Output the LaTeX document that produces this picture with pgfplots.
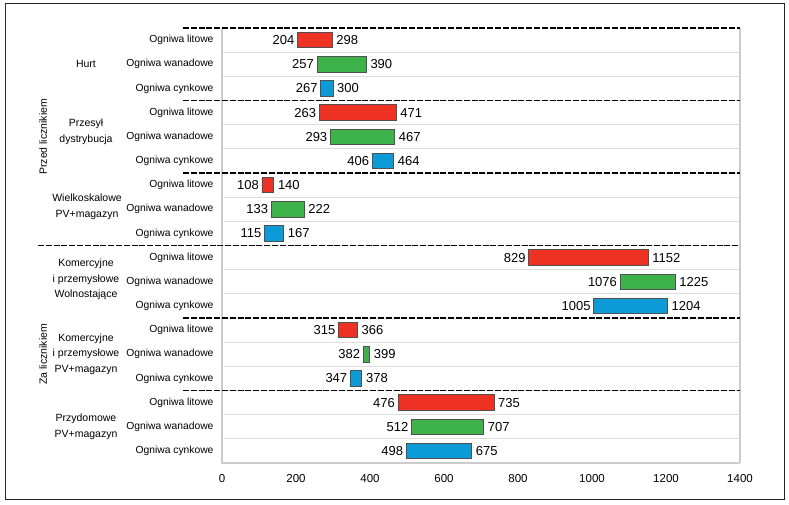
\documentclass[border=0pt]{standalone}
\usepackage{fontspec}
\setmainfont{Liberation Sans}
\usepackage{pgfplots}
\pgfplotsset{compat=1.18}
\usepackage{pgfplotstable}
\definecolor{cred}{RGB}{237,50,36}
\definecolor{cgreen}{RGB}{62,178,74}
\definecolor{cblue}{RGB}{13,155,216}
\definecolor{cborder}{RGB}{80,80,80}
\definecolor{cgrid}{RGB}{220,220,220}
\definecolor{caxis}{RGB}{204,204,204}
\tikzset{glab/.style={align=center, font=\fontsize{10.5}{15.5}\selectfont},
  sep/.style={black, line width=1.6pt, dash pattern=on 6pt off 1.8pt}}
% y: row, start/end: values; red/green/blue: bar length (end-start) for the row's type
\pgfplotstableread{
y  start red green blue end
0  204   94  0   0    298
1  257   0   133 0    390
2  267   0   0   33   300
3  263   208 0   0    471
4  293   0   174 0    467
5  406   0   0   58   464
6  108   32  0   0    140
7  133   0   89  0    222
8  115   0   0   52   167
9  829   323 0   0    1152
10 1076  0   149 0    1225
11 1005  0   0   199  1204
12 315   51  0   0    366
13 382   0   17  0    399
14 347   0   0   31   378
15 476   259 0   0    735
16 512   0   195 0    707
17 498   0   0   177  675
}\mytable
\begin{document}
\begin{tikzpicture}
\path (0pt,0pt) rectangle (789pt,505pt);
\draw[line width=0.8pt, black!85] (5pt,6pt) rectangle (784pt,502pt);
\begin{axis}[
  at={(222pt,42pt)}, anchor=south west,
  scale only axis, width=518pt, height=435pt,
  bar width=0.64,
  xmin=0, xmax=1400, ymin=-0.5, ymax=17.5, y dir=reverse,
  xtick={0,200,...,1400},
  ytick={0,...,17},
  yticklabels={Ogniwa litowe,Ogniwa wanadowe,Ogniwa cynkowe,
               Ogniwa litowe,Ogniwa wanadowe,Ogniwa cynkowe,
               Ogniwa litowe,Ogniwa wanadowe,Ogniwa cynkowe,
               Ogniwa litowe,Ogniwa wanadowe,Ogniwa cynkowe,
               Ogniwa litowe,Ogniwa wanadowe,Ogniwa cynkowe,
               Ogniwa litowe,Ogniwa wanadowe,Ogniwa cynkowe},
  minor ytick={0.5,1.5,...,16.5},
  yminorgrids, minor grid style={cgrid, line width=0.9pt},
  major tick length=0pt, minor tick length=0pt,
  axis line style={draw=none},
  clip=false,
  /pgf/number format/1000 sep={},
  /pgf/number format/assume math mode=true,
  xticklabel style={font=\fontsize{11.5}{13}\selectfont, yshift=-8pt},
  yticklabel style={font=\fontsize{10.3}{12}\selectfont, xshift=-5pt},
  ]
\draw[caxis, line width=2.2pt] (axis cs:0,-0.5) -- (axis cs:0,17.5) -- (axis cs:1400,17.5);
\draw[caxis, line width=1.5pt] (axis cs:1400,17.5) -- (axis cs:1400,-0.5);
\addplot[xbar stacked, bar shift=0pt, draw=none, fill=none] table[x=start, y=y] {\mytable};
\addplot[xbar stacked, bar shift=0pt, fill=cred, draw=cborder, line width=0.8pt] table[x=red, y=y] {\mytable};
\addplot[xbar stacked, bar shift=0pt, fill=cgreen, draw=cborder, line width=0.8pt] table[x=green, y=y] {\mytable};
\addplot[xbar stacked, bar shift=0pt, fill=cblue, draw=cborder, line width=0.8pt] table[x=blue, y=y] {\mytable};
% value labels
\addplot[sharp plot, draw=none, mark=none, nodes near coords, point meta=explicit,
  every node near coord/.style={anchor=east, font=\fontsize{13}{15}\selectfont, inner sep=3pt}]
  table[x=start, y=y, meta=start] {\mytable};
\addplot[sharp plot, draw=none, mark=none, nodes near coords, point meta=explicit,
  every node near coord/.style={anchor=west, font=\fontsize{13}{15}\selectfont, inner sep=4pt}]
  table[x=end, y=y, meta=end] {\mytable};
% separators
\draw[sep] ([xshift=-39pt]axis cs:0,-0.5) -- (axis cs:1400,-0.5);
\draw[sep] ([xshift=-39pt]axis cs:0,2.5) -- (axis cs:1400,2.5);
\draw[sep] ([xshift=-39pt]axis cs:0,5.5) -- (axis cs:1400,5.5);
\draw[sep] ([xshift=-184pt]axis cs:0,8.5) -- (axis cs:1400,8.5);
\draw[sep] ([xshift=-39pt]axis cs:0,11.5) -- (axis cs:1400,11.5);
\draw[sep] ([xshift=-39pt]axis cs:0,14.5) -- (axis cs:1400,14.5);
% group labels
\node[glab] at ([xshift=-136pt]axis cs:0,1) {Hurt};
\node[glab] at ([xshift=-136pt]axis cs:0,3.8) {Przesył\\dystrybucja};
\node[glab] at ([xshift=-135pt]axis cs:0,6.9) {Wielkoskalowe\\PV+magazyn};
\node[glab] at ([xshift=-136pt]axis cs:0,9.9) {Komercyjne\\i przemysłowe\\Wolnostające};
\node[glab] at ([xshift=-136pt]axis cs:0,13) {Komercyjne\\i przemysłowe\\PV+magazyn};
\node[glab] at ([xshift=-136pt]axis cs:0,16) {Przydomowe\\PV+magazyn};
\node[glab, rotate=90] at ([xshift=-179pt]axis cs:0,4) {Przed licznikiem};
\node[glab, rotate=90] at ([xshift=-179pt]axis cs:0,13) {Za licznikiem};
\end{axis}
\end{tikzpicture}
\end{document}
